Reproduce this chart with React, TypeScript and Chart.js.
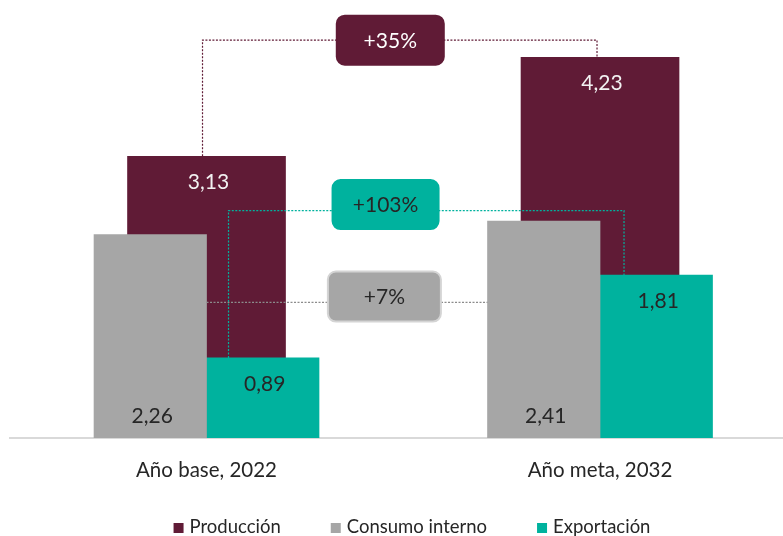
import { useEffect, useRef } from "react";
import { Chart, registerables } from "chart.js";
import type { Plugin } from "chart.js";

Chart.register(...registerables);

const categories = ["Año base, 2022", "Año meta, 2032"];
const seriesNames = ["Producción", "Consumo interno", "Exportación"];
const produccion = [3.13, 4.23];
const consumoInterno = [2.26, 2.41];
const exportacion = [0.89, 1.81];

const MAROON = "#601b36";
const GRAY = "#a6a6a6";
const TEAL = "#00b29e";
const TEXT = "#262626";
const FONT = "Lato, 'Noto Sans', sans-serif";

Chart.defaults.font.family = FONT;

const series = [produccion, consumoInterno, exportacion];
const colors = [MAROON, GRAY, TEAL];
const fmt = (v: number) => v.toFixed(2).replace(".", ",");
const growth = (a: number[]) => `+${Math.round((a[1] / a[0] - 1) * 100)}%`;

// callout levels/boxes in scale units, box size in px
const callouts = [
  { series: 0, level: 4.42, boxX: 0.467, boxY: 4.42, w: 107, h: 49, fill: MAROON, stroke: MAROON, color: "#ffffff" },
  { series: 2, level: 2.526, boxX: 0.455, boxY: 2.594, w: 106, h: 49, fill: TEAL, stroke: TEAL, color: TEXT },
  { series: 1, level: 1.508, boxX: 0.452, boxY: 1.572, w: 113, h: 50, fill: GRAY, stroke: "#d4d4d4", color: TEXT },
];

// legend sits below the axis labels, a bit right of centre like the original
const LEGEND_CX = 412;
const LEGEND_Y = 527;

const connectors: Plugin<"bar"> = {
  id: "connectors",
  afterDatasetsDraw(chart) {
    const { ctx } = chart;
    const sx = chart.scales.x;
    const sy = chart.scales.y;
    const bars = (i: number) => chart.getDatasetMeta(i).data as any[];

    ctx.save();
    ctx.lineWidth = 1.2;
    ctx.setLineDash([2, 1.5]);

    callouts.forEach((c) => {
      const [b0, b1] = bars(c.series);
      const L = sy.getPixelForValue(c.level);
      let pts: number[][];
      if (c.series === 0) {
        pts = [[b0.x - 4, b0.y], [b0.x - 4, L], [b1.x - 3, L], [b1.x - 3, b1.y]];
      } else if (c.series === 2) {
        const xa = b0.x - b0.width / 2 + 22;
        const xb = b1.x - b1.width / 2 + 24;
        pts = [[xa, b0.y], [xa, L], [xb, L], [xb, b1.y]];
      } else {
        pts = [[b0.x + b0.width / 2, L], [b1.x - b1.width / 2, L]];
      }
      ctx.strokeStyle = c.series === 1 ? "#8c8c8c" : c.fill;
      ctx.beginPath();
      pts.forEach(([x, y], i) => (i ? ctx.lineTo(x, y) : ctx.moveTo(x, y)));
      ctx.stroke();
    });

    ctx.setLineDash([]);
    ctx.font = `21px ${FONT}`;
    ctx.textAlign = "center";
    ctx.textBaseline = "middle";
    callouts.forEach((c) => {
      const cx = sx.getPixelForValue(c.boxX);
      const cy = sy.getPixelForValue(c.boxY);
      ctx.beginPath();
      ctx.roundRect(cx - c.w / 2, cy - c.h / 2, c.w, c.h, 8);
      ctx.fillStyle = c.fill;
      ctx.fill();
      ctx.lineWidth = 2;
      ctx.strokeStyle = c.stroke;
      ctx.stroke();
      ctx.fillStyle = c.color;
      ctx.fillText(growth(series[c.series]), cx, cy + 1);
    });
    ctx.restore();
  },
};

const valueLabels: Plugin<"bar"> = {
  id: "valueLabels",
  afterDatasetsDraw(chart) {
    const { ctx } = chart;
    ctx.save();
    ctx.font = `21px ${FONT}`;
    ctx.textAlign = "center";
    ctx.textBaseline = "middle";
    series.forEach((values, di) => {
      const meta = chart.getDatasetMeta(di);
      meta.data.forEach((bar: any, i) => {
        const y = di === 1 ? bar.base - 22 : bar.y + 26;
        ctx.fillStyle = di === 0 ? "#f2f2f2" : TEXT;
        ctx.fillText(fmt(values[i]), bar.x + 2, y);
      });
    });
    ctx.restore();
  },
};

const bottomLegend: Plugin<"bar"> = {
  id: "bottomLegend",
  afterDraw(chart) {
    const { ctx } = chart;
    ctx.save();
    ctx.font = `18.5px ${FONT}`;
    ctx.textBaseline = "middle";
    ctx.textAlign = "left";
    const box = 10;
    const space = 6;
    const gap = 50;
    const widths = seriesNames.map((n) => box + space + ctx.measureText(n).width);
    const total = widths.reduce((s, w) => s + w, 0) + gap * (widths.length - 1);
    let x = LEGEND_CX - total / 2;
    seriesNames.forEach((name, i) => {
      ctx.fillStyle = colors[i];
      ctx.fillRect(x, LEGEND_Y - box / 2 + 1, box, box);
      ctx.fillStyle = TEXT;
      ctx.fillText(name, x + box + space, LEGEND_Y);
      x += widths[i] + gap;
    });
    ctx.restore();
  },
};

export default function App() {
  const canvasRef = useRef<HTMLCanvasElement | null>(null);

  useEffect(() => {
    document.body.style.margin = "0";
    const canvas = canvasRef.current;
    if (!canvas) return;

    const chart = new Chart(canvas, {
      type: "bar",
      data: {
        datasets: [
          {
            label: seriesNames[0],
            data: produccion.map((y, x) => ({ x, y })),
            backgroundColor: MAROON,
            grouped: false,
            barThickness: 158,
            order: 2,
          },
          {
            label: seriesNames[1],
            data: consumoInterno.map((y, x) => ({ x, y })),
            backgroundColor: GRAY,
            barThickness: 112.5,
            order: 0,
          },
          {
            label: seriesNames[2],
            data: exportacion.map((y, x) => ({ x, y })),
            backgroundColor: TEAL,
            barThickness: 112.5,
            order: 1,
          },
        ] as any,
      },
      options: {
        responsive: false,
        animation: false,
        layout: { padding: { left: 10, right: 0, top: 6, bottom: 34 } },
        scales: {
          x: {
            type: "linear",
            min: -0.4994,
            max: 1.465,
            offset: false,
            grid: { display: false, drawTicks: false },
            border: { display: true, color: "#d9d9d9", width: 2 },
            afterBuildTicks: (axis: any) => {
              axis.ticks = categories.map((_, i) => ({ value: i }));
            },
            ticks: {
              callback: (v: any) => categories[v as number],
              color: TEXT,
              font: { size: 20.5, lineHeight: 1.2 },
              padding: 19.7,
              autoSkip: false,
              maxRotation: 0,
            },
          },
          y: { display: false, min: 0, max: 4.8 },
        },
        plugins: {
          legend: { display: false },
          tooltip: { enabled: false },
        },
      },
      plugins: [connectors, valueLabels, bottomLegend],
    });

    return () => chart.destroy();
  }, []);

  return <canvas ref={canvasRef} width={783} height={536} />;
}
